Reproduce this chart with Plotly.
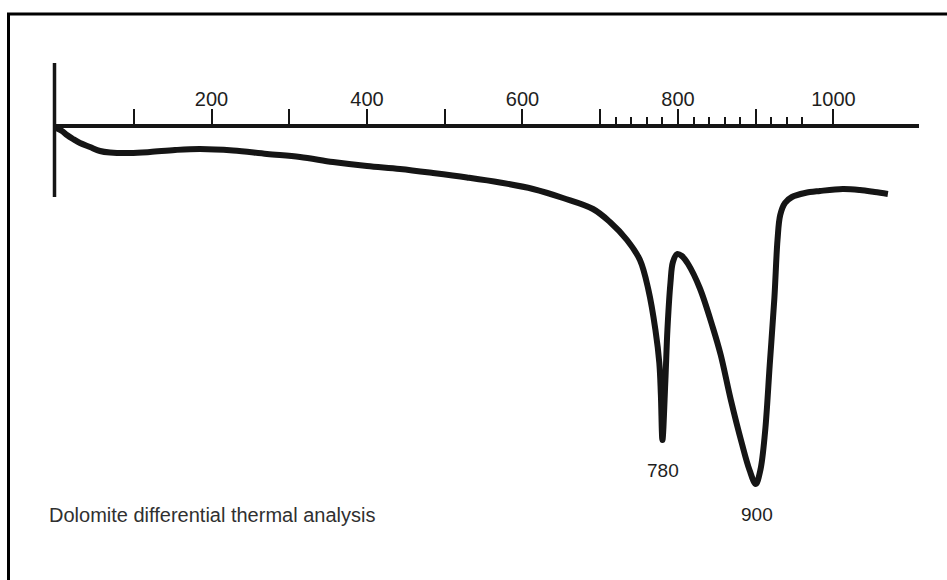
import plotly.graph_objects as go

# Dolomite DTA trace: temperature (deg C) vs. differential signal (arbitrary units, endotherms downward)
temperature = [0, 7.7, 14.1, 21.9, 30.9, 43.7, 56.6, 69.5, 95.2, 120.9, 153.1, 185.2,
               227.7, 271.4, 313.8, 356.3, 400, 442.4, 484.9, 528.6, 571, 613.5, 652.1,
               690.7, 712.5, 734.4, 751.1, 762, 771, 776, 778, 780, 783.8, 786.4, 790.3,
               793.5, 799, 805, 813, 828, 845, 855, 868, 882, 892, 900, 906, 912, 918,
               924, 928, 931.5, 937.6, 946.6, 963.3, 982.6, 1012, 1034, 1053, 1070]
signal = [0, -0.3, -0.7, -1.1, -1.5, -1.9, -2.3, -2.45, -2.5, -2.4, -2.2, -2.1,
          -2.25, -2.6, -2.9, -3.4, -3.8, -4.1, -4.5, -4.95, -5.45, -6.1, -7.0,
          -8.1, -9.4, -11.2, -13.2, -16.2, -20.2, -23.5, -26.7, -31.2, -25.2, -20.2, -15.5,
          -13.4, -12.6, -12.8, -13.6, -16.0, -20.0, -22.7, -27.2, -31.5, -34.2, -35.6, -34.2, -30.4, -23.7,
          -17.0, -11.2, -8.7, -7.5, -6.9, -6.5, -6.3, -6.1, -6.2, -6.4, -6.6]

# Endothermic peak temperatures
peak_temps = [780, 900]

# Temperature scale
major_ticks = [100, 200, 300, 400, 500, 600, 700, 800, 900, 1000]
major_labels = ["", "200", "", "400", "", "600", "", "800", "", "1000"]
minor_ticks = [720, 740, 760, 780, 820, 840, 860, 880, 920, 940, 960]

title_text = "Dolomite differential thermal analysis"

# Page geometry
W, H = 947, 580
M_L, M_R, M_T, M_B = 56, 28, 128, 33
PW, PH = W - M_L - M_R, H - M_T - M_B


def px_x(x):
    return (x - M_L) / PW


def px_y(y):
    return (H - M_B - y) / PH


INK = "#151515"
TEXT = "#1e1e1e"
FONT = "Liberation Sans, Arial, Helvetica, sans-serif"

fig = go.Figure()
fig.add_trace(go.Scatter(
    x=temperature, y=signal, mode="lines",
    line=dict(color=INK, width=6, shape="spline", smoothing=1.0),
    hoverinfo="skip", showlegend=False,
))

# Peak labels sit just under each minimum
for t in peak_temps:
    i = temperature.index(t)
    fig.add_annotation(x=t, y=signal[i], xref="x", yref="y", text=str(t),
                       showarrow=False, yshift=-30, xshift=1,
                       font=dict(family=FONT, size=19, color=TEXT))

fig.add_annotation(x=px_x(47), y=px_y(515), xref="paper", yref="paper",
                   text=title_text, showarrow=False, xanchor="left", yanchor="middle",
                   font=dict(family=FONT, size=20, color="#303030"))

shapes = [
    # vertical baseline marker at the start of the run
    dict(type="line", xref="paper", yref="paper", x0=px_x(54.5), x1=px_x(54.5),
         y0=px_y(63), y1=px_y(197), line=dict(color=INK, width=3.5)),
    # page frame (left and top edges)
    dict(type="line", xref="paper", yref="paper", x0=px_x(8.5), x1=px_x(8.5),
         y0=px_y(13), y1=px_y(H + 2), line=dict(color="#000000", width=3)),
    dict(type="line", xref="paper", yref="paper", x0=px_x(7), x1=px_x(W + 2),
         y0=px_y(14), y1=px_y(14), line=dict(color="#000000", width=3)),
]

fig.update_layout(
    width=W, height=H,
    margin=dict(l=M_L, r=M_R, t=M_T, b=M_B, pad=0),
    paper_bgcolor="white", plot_bgcolor="white",
    shapes=shapes,
    xaxis=dict(
        range=[0, 1110], side="top", showline=True, linecolor=INK, linewidth=4,
        showgrid=False, zeroline=False,
        ticks="outside", ticklen=15, tickwidth=2, tickcolor=INK,
        tickmode="array", tickvals=major_ticks, ticktext=major_labels,
        tickfont=dict(family=FONT, size=20, color=TEXT),
        ticklabelstandoff=-5,
        minor=dict(tickmode="array", tickvals=minor_ticks, ticks="outside",
                   ticklen=7, tickwidth=2, tickcolor=INK, showgrid=False),
    ),
    yaxis=dict(range=[-(PH / 10), 0], visible=False, showgrid=False, zeroline=False),
)

fig.write_html("out.html")
